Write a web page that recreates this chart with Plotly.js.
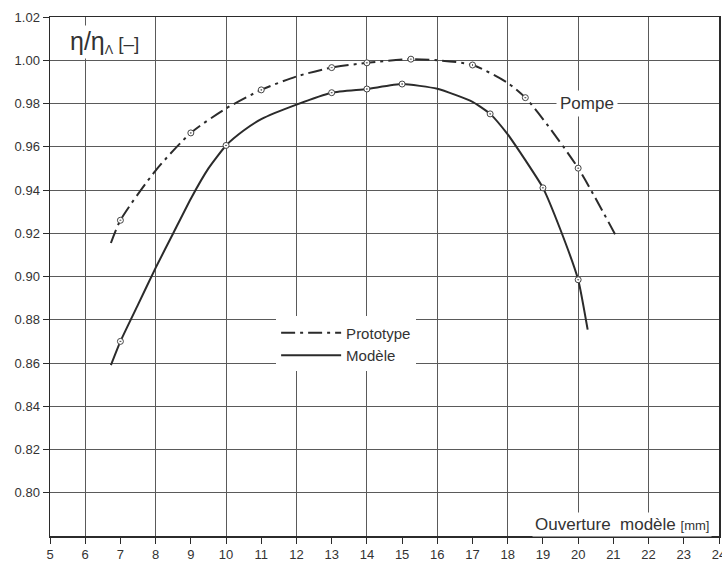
<!DOCTYPE html>
<html>
<head>
<meta charset="utf-8">
<script src="https://cdn.plot.ly/plotly-3.0.1.min.js"></script>
<style>
  html, body { margin: 0; padding: 0; background: #fff; }
  #chart { width: 722px; height: 561px; }
</style>
</head>
<body>
<div id="chart"></div>
<script>
// Curve points
const protoCurveX = [6.73, 7, 8, 9, 10, 11, 12, 13, 14, 15.25, 16, 17, 18, 18.5, 19, 20, 21.06];
const protoCurveY = [0.9155, 0.926, 0.949, 0.9664, 0.9777, 0.9863, 0.9925, 0.9966, 0.9988, 1.0005, 1.0000, 0.9978, 0.9895, 0.9827, 0.9728, 0.9501, 0.9192];
const protoPointX = [7, 9, 11, 13, 14, 15.25, 17, 18.5, 20];
const protoPointY = [0.926, 0.9664, 0.9863, 0.9966, 0.9988, 1.0005, 0.9978, 0.9827, 0.9501];

const modelCurveX = [6.73, 7, 7.5, 8, 8.5, 9, 9.5, 10, 10.5, 11, 12, 13, 14, 15, 16, 17, 17.5, 18, 18.5, 19, 19.5, 20, 20.27];
const modelCurveY = [0.859, 0.870, 0.887, 0.904, 0.920, 0.936, 0.950, 0.9606, 0.9675, 0.9728, 0.9795, 0.985, 0.9867, 0.989, 0.9868, 0.9808, 0.9752, 0.9657, 0.9538, 0.941, 0.9215, 0.8985, 0.8754];
const modelPointX = [7, 10, 13, 14, 15, 17.5, 19, 20];
const modelPointY = [0.870, 0.9606, 0.985, 0.9867, 0.989, 0.9752, 0.941, 0.8985];

const yTickVals = [0.80, 0.82, 0.84, 0.86, 0.88, 0.90, 0.92, 0.94, 0.96, 0.98, 1.00, 1.02];
const yTickText = ["0.80", "0.82", "0.84", "0.86", "0.88", "0.90", "0.92", "0.94", "0.96", "0.98", "1.00", "1.02"];
const xTickVals = [5, 6, 7, 8, 9, 10, 11, 12, 13, 14, 15, 16, 17, 18, 19, 20, 21, 22, 23, 24];

const ink = '#2b2b2b';
const font = 'Liberation Sans, Arial, sans-serif';

const traces = [
  {
    x: protoCurveX, y: protoCurveY, mode: 'lines', name: 'Prototype',
    line: { color: ink, width: 2, dash: '14px,5px,3px,5px', shape: 'spline', smoothing: 0.7 }
  },
  {
    x: modelCurveX, y: modelCurveY, mode: 'lines', name: 'Modèle',
    line: { color: ink, width: 2, shape: 'spline', smoothing: 0.5 }
  },
  {
    x: protoPointX, y: protoPointY, mode: 'markers', showlegend: false, hoverinfo: 'skip',
    marker: { symbol: 'circle-dot', size: 6, color: '#fff', line: { color: '#444', width: 1 } }
  },
  {
    x: modelPointX, y: modelPointY, mode: 'markers', showlegend: false, hoverinfo: 'skip',
    marker: { symbol: 'circle-dot', size: 6, color: '#fff', line: { color: '#444', width: 1 } }
  }
];

const layout = {
  width: 722, height: 561,
  margin: { l: 50, r: 3, t: 17, b: 25, pad: 0 },
  paper_bgcolor: '#fff', plot_bgcolor: '#fff',
  font: { family: font, color: '#333', size: 13 },
  showlegend: true,
  legend: {
    x: 0.338, y: 0.423, xanchor: 'left', yanchor: 'top',
    bgcolor: '#fff', borderwidth: 0,
    font: { family: font, size: 15, color: '#333' },
    itemwidth: 60, tracegroupgap: 0
  },
  xaxis: {
    range: [5, 24], tickmode: 'array', tickvals: xTickVals,
    ticks: 'outside', ticklen: 6, tickcolor: ink, tickwidth: 1,
    ticklabeloverflow: 'allow',
    showgrid: false, zeroline: false,
    showline: true, linecolor: ink, linewidth: 1.5, mirror: true,
    minor: { dtick: 2, tick0: 0, showgrid: true, gridcolor: '#5a5a5a', gridwidth: 1, ticks: '' },
    tickfont: { family: font, size: 13, color: '#333' }
  },
  yaxis: {
    range: [0.78, 1.02], tickmode: 'array', tickvals: yTickVals, ticktext: yTickText,
    ticks: 'outside', ticklen: 6, tickcolor: ink, tickwidth: 1,
    showgrid: true, gridcolor: '#5a5a5a', gridwidth: 1, zeroline: false,
    showline: true, linecolor: ink, linewidth: 1.5, mirror: true,
    tickfont: { family: font, size: 13, color: '#333' }
  },
  annotations: [
    {
      xref: 'paper', yref: 'paper', x: 0.027, y: 0.985, xanchor: 'left', yanchor: 'top',
      text: '<span style="font-size:25px">η/η</span><sub>Λ</sub> <span style="font-size:19px">[–]</span>',
      showarrow: false, bgcolor: '#fff', font: { family: font, size: 18, color: '#333' }
    },
    {
      xref: 'x', yref: 'y', x: 20.26, y: 0.98, xanchor: 'center', yanchor: 'middle',
      text: 'Pompe', showarrow: false, bgcolor: '#fff', borderpad: 3,
      font: { family: font, size: 17, color: '#333' }
    },
    {
      xref: 'x', yref: 'y', x: 23.8, y: 0.7852, xanchor: 'right', yanchor: 'middle',
      text: 'Ouverture  modèle <span style="font-size:13px">[mm]</span>', showarrow: false,
      bgcolor: '#fff', borderpad: 2,
      font: { family: font, size: 17, color: '#333' }
    }
  ]
};

Plotly.newPlot('chart', traces, layout, { displayModeBar: false, staticPlot: true });
</script>
</body>
</html>
